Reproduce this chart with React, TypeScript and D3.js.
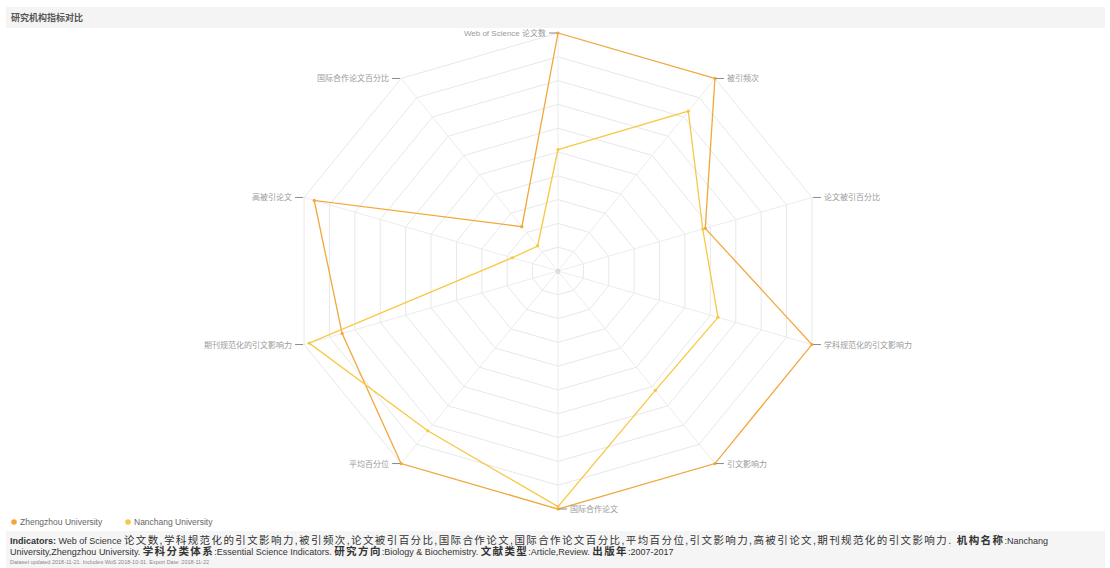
import React from "react";
import * as d3 from "d3";

const TITLE = "研究机构指标对比";
const axesLabels = [
  "Web of Science 论文数",
  "被引频次",
  "论文被引百分比",
  "学科规范化的引文影响力",
  "引文影响力",
  "国际合作论文",
  "平均百分位",
  "期刊规范化的引文影响力",
  "高被引论文",
  "国际合作论文百分比",
];
const seriesNames = ["Zhengzhou University", "Nanchang University"];
const zhengzhou = [1.0, 1.0, 0.58, 1.0, 1.0, 1.0, 1.0, 0.85, 0.96, 0.23];
const nanchang = [0.51, 0.83, 0.57, 0.63, 0.62, 0.99, 0.83, 0.98, 0.18, 0.13];
const seriesColors = ["#f3a73a", "#f7c843"];
const ringTicks = [0.1, 0.2, 0.3, 0.4, 0.5, 0.6, 0.7, 0.8, 0.9, 1.0];

// [text, bold, cjk]
const footer1Parts: [string, boolean, boolean][] = [
  ["Indicators:", true, false],
  [" Web of Science ", false, false],
  ["论文数,学科规范化的引文影响力,被引频次,论文被引百分比,国际合作论文,国际合作论文百分比,平均百分位,引文影响力,高被引论文,期刊规范化的引文影响力. ", false, true],
  ["机构名称", true, true],
  [":Nanchang", false, false],
];
const footer2Parts: [string, boolean, boolean][] = [
  ["University,Zhengzhou University. ", false, false],
  ["学科分类体系", true, true],
  [":Essential Science Indicators. ", false, false],
  ["研究方向", true, true],
  [":Biology & Biochemistry. ", false, false],
  ["文献类型", true, true],
  [":Article,Review. ", false, false],
  ["出版年", true, true],
  [":2007-2017", false, false],
];
const footer3 = "Dataset updated 2018-11-21. Includes WoS 2018-10-31. Export Date: 2018-11-22";

const W = 1110;
const H = 568;
const cx = 558;
const cy = 271;

function FooterLine({ parts, y }: { parts: [string, boolean, boolean][]; y: number }) {
  return (
    <text x={10} y={y} fontSize={9} fill="#333">
      {parts.map(([t, b, cjk], i) => (
        <tspan
          key={i}
          fontWeight={b ? "bold" : "normal"}
          fontSize={cjk ? 10.5 : 9}
          letterSpacing={cjk ? 1.4 : 0}
        >
          {t}
        </tspan>
      ))}
    </text>
  );
}

export default function App() {
  const xs = d3.scaleLinear().domain([0, 1]).range([0, 267]);
  const ys = d3.scaleLinear().domain([0, 1]).range([0, 238]);
  const angle = d3
    .scaleLinear()
    .domain([0, axesLabels.length])
    .range([0, Math.PI * 2]);

  const pt = (i: number, v: number): [number, number] => {
    const a = angle(i);
    return [cx + xs(v) * Math.sin(a), cy - ys(v) * Math.cos(a)];
  };
  const line = d3.line<[number, number]>().curve(d3.curveLinearClosed);

  const series = [zhengzhou, nanchang];
  const font = "Arial, 'Liberation Sans', 'Noto Sans CJK SC', sans-serif";

  return (
    <svg
      width={W}
      height={H}
      style={{ position: "absolute", left: 0, top: 0, fontFamily: font }}
    >
      <rect x={0} y={0} width={W} height={H} fill="#ffffff" />
      <rect x={6} y={7} width={1099} height={21} fill="#f4f4f4" />
      <text x={11} y={21} fontSize={9} fontWeight="bold" fill="#555">
        {TITLE}
      </text>

      {/* grid rings */}
      {ringTicks.map((t) => (
        <path
          key={"r" + t}
          d={line(axesLabels.map((_, i) => pt(i, t))) || ""}
          fill="none"
          stroke="#e8e8e8"
          strokeWidth={1}
        />
      ))}
      {/* spokes */}
      {axesLabels.map((_, i) => {
        const [x, y] = pt(i, 1);
        return (
          <line key={"s" + i} x1={cx} y1={cy} x2={x} y2={y} stroke="#ececec" strokeWidth={1} />
        );
      })}
      <text x={cx} y={cy + 3} fontSize={7} fill="#bbb" textAnchor="middle">
        0
      </text>

      {/* series */}
      {series.map((vals, si) => (
        <g key={"g" + si}>
          <path
            d={line(vals.map((v, i) => pt(i, v))) || ""}
            fill="none"
            stroke={seriesColors[si]}
            strokeWidth={1.3}
          />
          {vals.map((v, i) => {
            const [x, y] = pt(i, v);
            return <circle key={i} cx={x} cy={y} r={1.6} fill={seriesColors[si]} />;
          })}
        </g>
      ))}

      {/* axis labels */}
      {axesLabels.map((lab, i) => {
        const [x, y] = pt(i, 1);
        const right = i >= 1 && i <= 5;
        const dir = right ? 1 : -1;
        return (
          <g key={"l" + i}>
            <line x1={x + dir * 1} y1={y} x2={x + dir * 9} y2={y} stroke="#8a8a8a" strokeWidth={1} />
            <text
              x={x + dir * 12}
              y={y + 3}
              fontSize={8}
              fill="#9a9a9a"
              textAnchor={right ? "start" : "end"}
            >
              {lab}
            </text>
          </g>
        );
      })}

      {/* legend */}
      {seriesNames.map((n, i) => {
        const lx = i === 0 ? 14 : 128;
        return (
          <g key={"lg" + i}>
            <circle cx={lx} cy={522} r={2.8} fill={seriesColors[i]} />
            <text x={lx + 6} y={525} fontSize={8.5} fill="#666">
              {n}
            </text>
          </g>
        );
      })}

      {/* footer */}
      <rect x={6} y={531} width={1099} height={37} fill="#f5f5f5" />
      <FooterLine parts={footer1Parts} y={544} />
      <FooterLine parts={footer2Parts} y={555} />
      <text x={10} y={564} fontSize={5.5} fill="#888">
        {footer3}
      </text>
    </svg>
  );
}
